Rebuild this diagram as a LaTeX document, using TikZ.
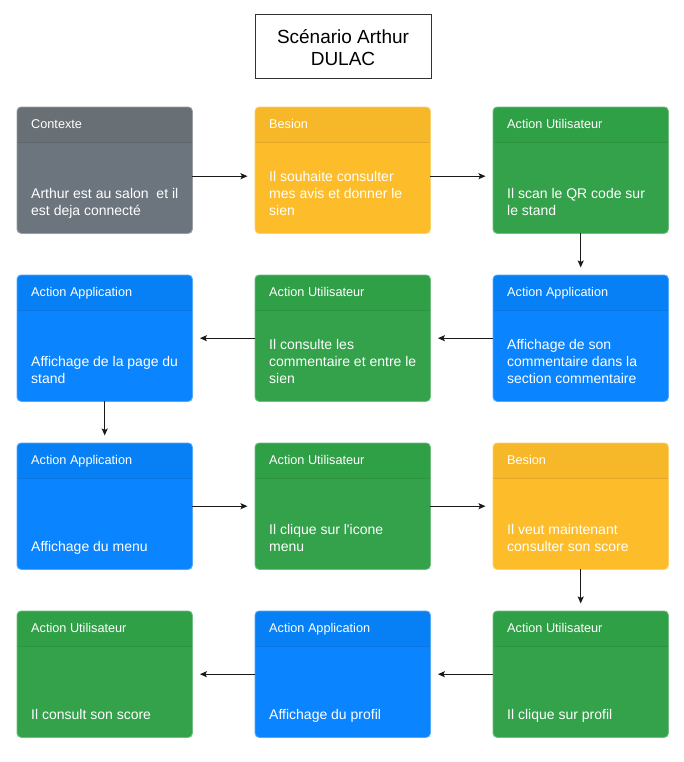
\documentclass[tikz,border=0pt]{standalone}
\usepackage{fontspec}
\setmainfont{Liberation Sans}
\usetikzlibrary{arrows.meta,calc}
\definecolor{grayB}{HTML}{6C757D}
\definecolor{grayH}{HTML}{686F75}
\definecolor{yelB}{HTML}{FDBD2A}
\definecolor{yelH}{HTML}{F6B728}
\definecolor{grnB}{HTML}{33A24A}
\definecolor{grnH}{HTML}{30A047}
\definecolor{bluB}{HTML}{0A84FF}
\definecolor{bluH}{HTML}{0780F6}
\tikzset{
  cardbox/.style={minimum width=175pt, minimum height=126pt, inner sep=0pt, rounded corners=4pt},
  hdrtext/.style={text=white, inner sep=0pt, font=\fontsize{12.7}{15}\selectfont},
  bodytext/.style={text=white, inner sep=0pt, align=left, font=\fontsize{14}{17}\selectfont},
  arr/.style={line width=1.3pt, draw=black!90, -{Stealth[length=7pt,width=6pt,inset=1.5pt]}, shorten >=7.5pt},
  titlebox/.style={draw=black!80, line width=1pt, minimum width=176pt, minimum height=64pt, inner sep=0pt, align=center, font=\fontsize{19}{22.5}\selectfont}
}
\newcommand\mkcard[6]{%
  \node[cardbox, fill=#4B, anchor=north west] (#1) at (#2,#3) {};
  \begin{scope}
    \clip[rounded corners=4pt] (#1.north west) rectangle (#1.south east);
    \fill[#4H] (#1.north west) rectangle ($(#1.north east)+(0,35)$);
    \draw[#4H!92!black, line width=0.8pt] ($(#1.north west)+(0,35)$) -- ($(#1.north east)+(0,35)$);
  \end{scope}
  \draw[rounded corners=4pt, #4B!70!white, line width=0.8pt] (#1.north west) rectangle (#1.south east);
  \node[hdrtext, anchor=base west] (#1h) at ($(#1.north west)+(14,21.5)$) {#5};
  \node[bodytext, anchor=south west] (#1b) at ($(#1.south west)+(14,-12.9)$) {#6\strut};
}
\begin{document}
\begin{tikzpicture}[x=1pt, y=-1pt]
\fill[white] (0,0) rectangle (684,762);
\useasboundingbox (0,0) rectangle (684,762);

\node[titlebox] (title) at (343,47) {\rule{0pt}{22pt}Scénario Arthur\\DULAC\strut};

\mkcard{c11}{17}{107}{gray}{Contexte}{Arthur est au salon~ et il\\est deja connecté}
\mkcard{c12}{255}{107}{yel}{Besion}{Il souhaite consulter\\mes avis et donner le\\sien}
\mkcard{c13}{493}{107}{grn}{Action Utilisateur}{Il scan le QR code sur\\le stand}

\mkcard{c21}{17}{275}{blu}{Action Application}{Affichage de la page du\\stand}
\mkcard{c22}{255}{275}{grn}{Action Utilisateur}{Il consulte les\\commentaire et entre le\\sien}
\mkcard{c23}{493}{275}{blu}{Action Application}{Affichage de son\\commentaire dans la\\section commentaire}

\mkcard{c31}{17}{443}{blu}{Action Application}{Affichage du menu}
\mkcard{c32}{255}{443}{grn}{Action Utilisateur}{Il clique sur l\textquotesingle icone\\menu}
\mkcard{c33}{493}{443}{yel}{Besion}{Il veut maintenant\\consulter son score}

\mkcard{c41}{17}{611}{grn}{Action Utilisateur}{Il consult son score}
\mkcard{c42}{255}{611}{blu}{Action Application}{Affichage du profil}
\mkcard{c43}{493}{611}{grn}{Action Utilisateur}{Il clique sur profil}

\draw[arr] ([yshift=-6pt]c11.east) -- ([yshift=-6pt]c12.west);
\draw[arr] ([yshift=-6pt]c12.east) -- ([yshift=-6pt]c13.west);
\draw[arr] (c13.south) -- (c23.north);
\draw[arr] (c23.west) -- (c22.east);
\draw[arr] (c22.west) -- (c21.east);
\draw[arr] (c21.south) -- (c31.north);
\draw[arr] (c31.east) -- (c32.west);
\draw[arr] (c32.east) -- (c33.west);
\draw[arr] (c33.south) -- (c43.north);
\draw[arr] (c43.west) -- (c42.east);
\draw[arr] (c42.west) -- (c41.east);
\end{tikzpicture}
\end{document}
